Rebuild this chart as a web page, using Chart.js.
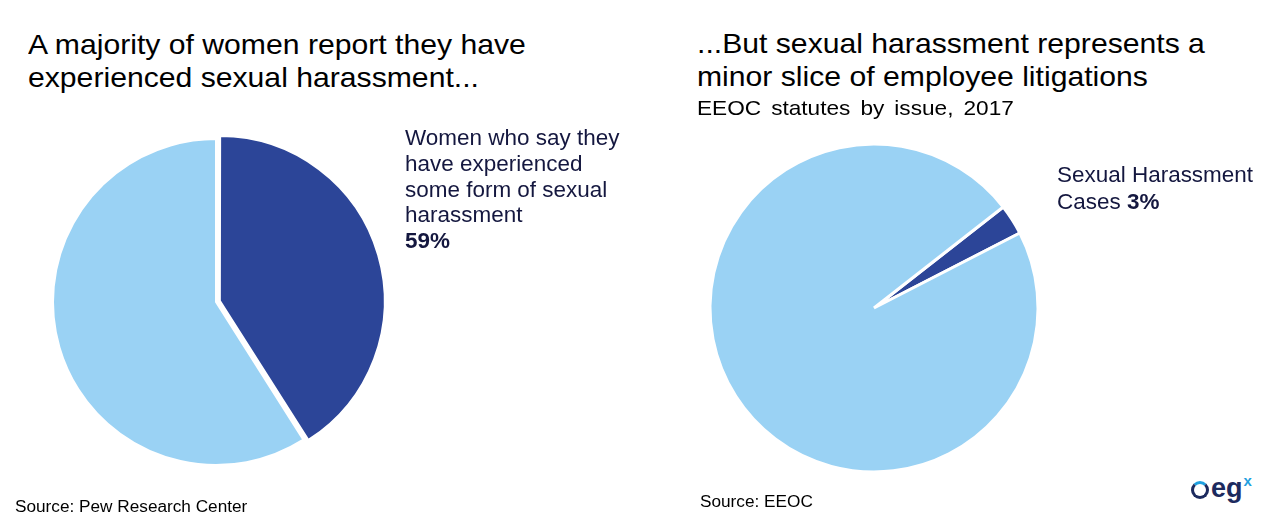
<!DOCTYPE html>
<html>
<head>
<meta charset="utf-8">
<script src="https://cdn.jsdelivr.net/npm/chart.js@4"></script>
<style>
  body { margin: 0; width: 1280px; height: 523px; background: #fff; overflow: hidden;
         font-family: "Liberation Sans", Arial, sans-serif; }
  .abs { position: absolute; z-index: 2; transform-origin: 0 0; white-space: nowrap; }
  .title { font-size: 28px; line-height: 33px; color: #000; transform: scaleX(1.077); }
  .sub { font-size: 21px; line-height: 24px; color: #000; transform: scaleX(1.077); word-spacing: 3.5px; }
  .lbl { font-size: 21.5px; line-height: 25.8px; color: #14173f; transform: scaleX(1.045); }
  .src { font-size: 16px; line-height: 20px; color: #000; transform: scaleX(1.075); }
  canvas { position: absolute; z-index: 1; }
  #logo { left: 1191px; top: 466px; font-size: 27px; font-weight: bold; color: #1c2a5e; line-height: 30px; }
  #logo .ring { display: inline-block; width: 12px; height: 12px; border: 3.5px solid #1c2a5e;
                border-radius: 50%; border-top-color: #1ea0e0; vertical-align: -2px; margin-right: 2px; }
  #logo sup { color: #1ea0e0; font-size: 15px; vertical-align: 11px; margin-left: 1px; }
</style>
</head>
<body>
<div class="abs title" style="left:28px; top:28px;">A majority of women report they have<br>experienced sexual harassment...</div>
<div class="abs title" style="left:697px; top:27px;">...But sexual harassment represents a<br>minor slice of employee litigations</div>
<div class="abs sub" style="left:697px; top:96px;">EEOC statutes by issue, 2017</div>

<div class="abs lbl" style="left:405px; top:126px;">Women who say they<br>have experienced<br>some form of sexual<br>harassment<br><b>59%</b></div>
<div class="abs lbl" style="left:1057px; top:162px; line-height:27px;">Sexual Harassment<br>Cases <b>3%</b></div>

<div class="abs src" style="left:15px; top:497px;">Source: Pew Research Center</div>
<div class="abs src" style="left:700px; top:492px;">Source: EEOC</div>
<div class="abs" id="logo"><span class="ring"></span>eg<sup>x</sup></div>

<canvas id="leftPie" width="400" height="400" style="left:16px; top:102px;"></canvas>
<canvas id="rightPie" width="400" height="400" style="left:674px; top:108px;"></canvas>

<script>
// Pew survey: women who experienced harassment (dark) vs not
const leftLabels = ['Experienced', 'Other'];
const leftValues = [41, 59];

// EEOC statutes by issue, 2017
const rightLabels = ['Sexual Harassment Cases', 'Other'];
const rightValues = [3, 97];

const darkBlue = '#2c4598';
const lightBlue = '#9ad2f4';

function pieOptions(radius, rotation) {
    return {
        responsive: false,
        animation: false,
        radius: radius,
        rotation: rotation,
        layout: { padding: 0 },
        plugins: { legend: { display: false }, tooltip: { enabled: false } }
    };
}

new Chart(document.getElementById('leftPie').getContext('2d'), {
    type: 'pie',
    data: {
        labels: leftLabels,
        datasets: [{
            data: leftValues,
            backgroundColor: [darkBlue, lightBlue],
            borderColor: '#fff',
            borderWidth: 2,
            offset: [16, 0]   // pulls the dark slice out a few pixels
        }]
    },
    options: pieOptions(163, 0)
});

new Chart(document.getElementById('rightPie').getContext('2d'), {
    type: 'pie',
    data: {
        labels: rightLabels,
        datasets: [{
            data: rightValues,
            backgroundColor: [darkBlue, lightBlue],
            borderColor: '#fff',
            borderWidth: 3
        }]
    },
    options: pieOptions(164, 52)
});
</script>
</body>
</html>
